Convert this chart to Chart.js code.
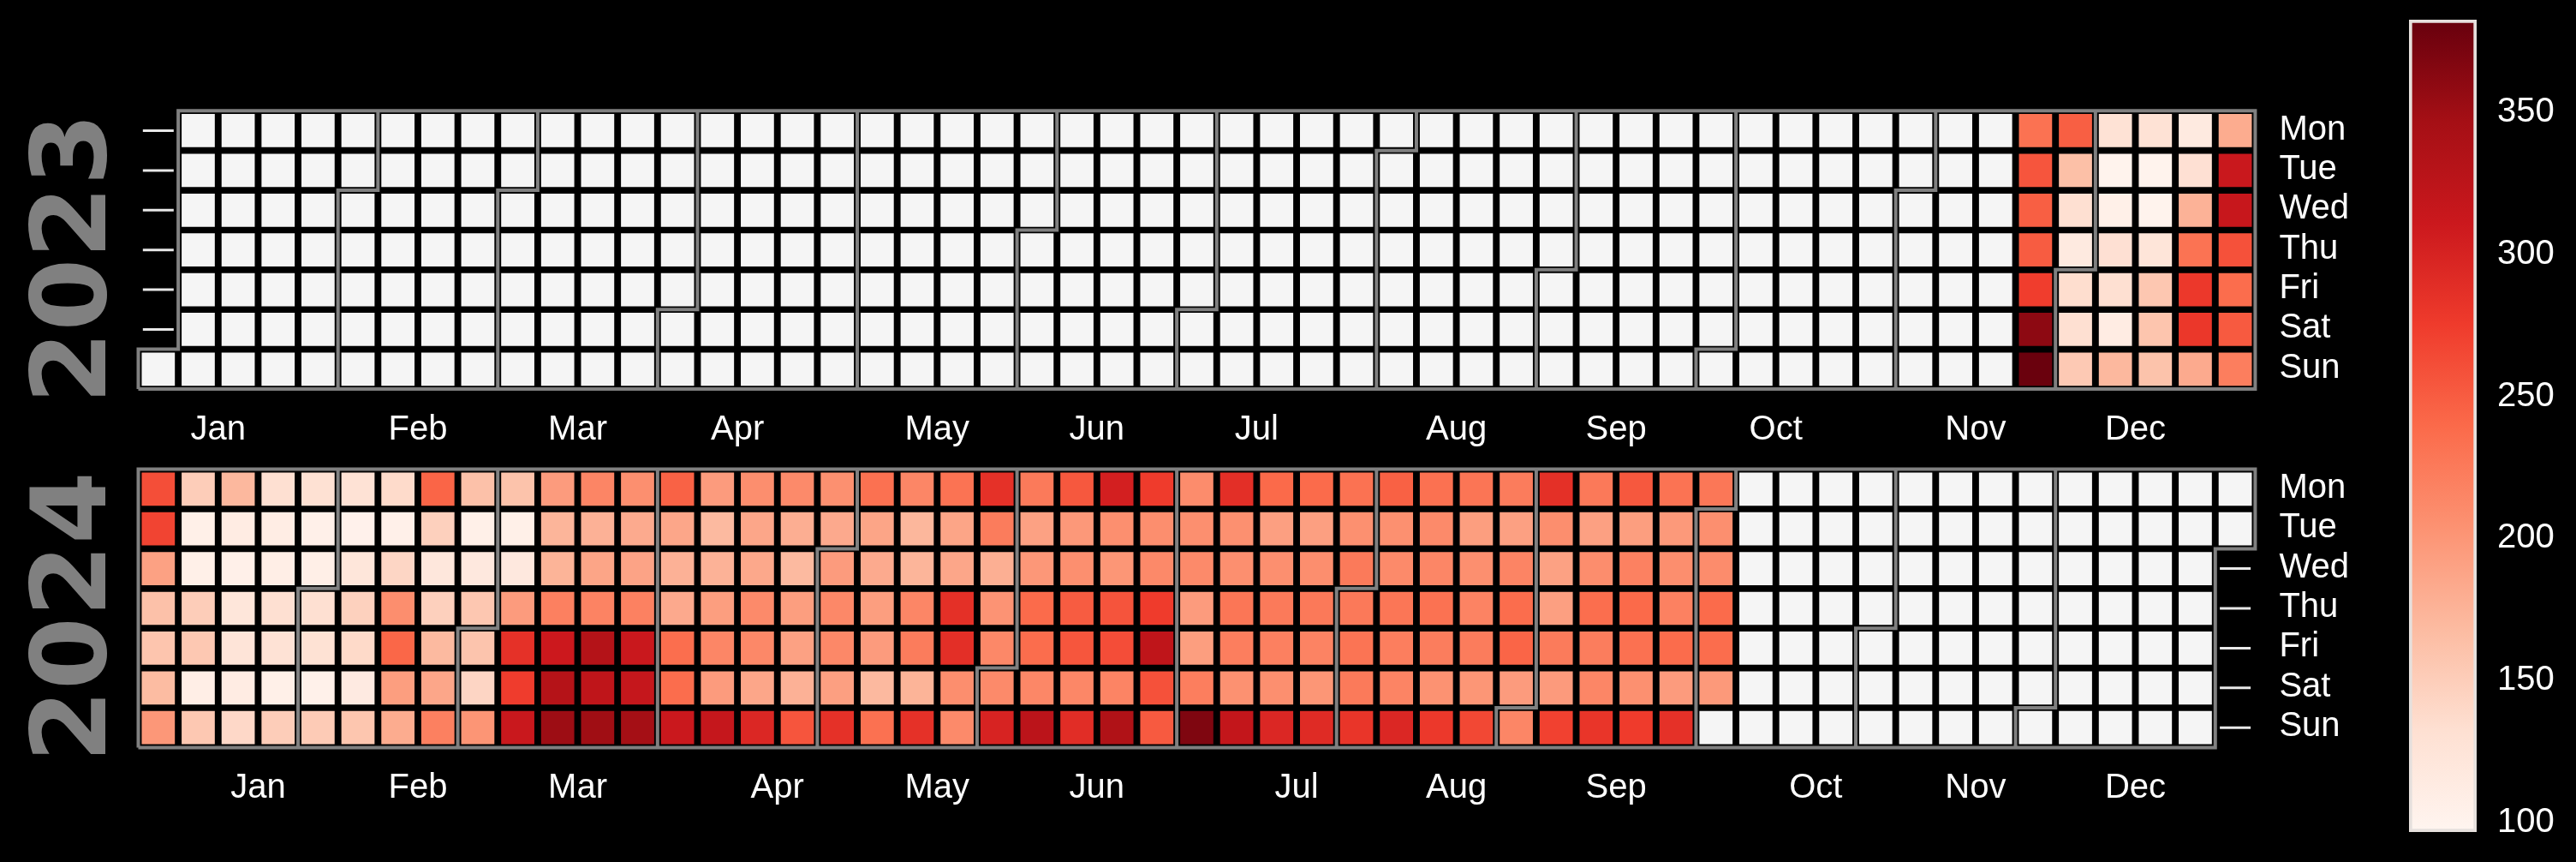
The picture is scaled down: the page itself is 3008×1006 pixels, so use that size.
<!DOCTYPE html>
<html>
<head>
<meta charset="utf-8">
<title>Calendar heatmap</title>
<script src="https://cdn.jsdelivr.net/npm/chart.js@4/dist/chart.umd.js"></script>
<style>
  html, body { margin: 0; padding: 0; background: #000; width: 3008px; height: 1006px; overflow: hidden; }
  canvas { position: absolute; filter: blur(0.7px); }
</style>
</head>
<body>
<canvas id="cal2023" width="2800" height="612" style="left:0;top:0"></canvas>
<canvas id="cal2024" width="2800" height="458" style="left:0;top:490px"></canvas>
<canvas id="colorbar" width="228" height="1006" style="left:2780px;top:0"></canvas>
<script>
const dayLabels = ["Mon", "Tue", "Wed", "Thu", "Fri", "Sat", "Sun"];
const monthLabels = ["Jan", "Feb", "Mar", "Apr", "May", "Jun", "Jul", "Aug", "Sep", "Oct", "Nov", "Dec"];

// week column each month label sits on
const monthWeeks2023 = [2, 7, 11, 15, 20, 24, 28, 33, 37, 41, 46, 50];
const monthWeeks2024 = [3, 7, 11, 16, 20, 24, 29, 33, 37, 42, 46, 50];

const colorbarTicks = [100, 150, 200, 250, 300, 350];
const vmin = 96;
const vmax = 382;

// 2023 only has data from week 47 on
const firstWeek2023 = 47;
const mon2023 = [232, 247, 128, 128, 115, 181];
const tue2023 = [255, 163, 100, 100, 131, 312];
const wed2023 = [247, 132, 105, 99, 175, 314];
const thu2023 = [250, 115, 131, 124, 231, 258];
const fri2023 = [273, 134, 132, 156, 278, 236];
const sat2023 = [360, 132, 111, 158, 279, 251];
const sun2023 = [380, 154, 170, 160, 182, 221];

const firstWeek2024 = 0;
const mon2024 = [260, 150, 170, 132, 130, 128, 137, 243, 162, 160, 195, 215, 206, 245,
  195, 207, 210, 205, 233, 214, 231, 285, 225, 253, 303, 275, 209, 287,
  239, 238, 232, 246, 233, 229, 223, 286, 226, 253, 231, 227];
const tue2024 = [268, 105, 112, 110, 104, 102, 104, 147, 105, 105, 173, 176, 182, 186,
  168, 186, 179, 183, 187, 171, 187, 223, 190, 198, 206, 207, 206, 205,
  192, 192, 205, 205, 210, 193, 191, 207, 191, 193, 197, 206];
const wed2024 = [190, 105, 104, 108, 107, 122, 141, 120, 118, 118, 174, 187, 188, 176,
  175, 184, 168, 195, 182, 173, 186, 178, 199, 206, 200, 211, 210, 206,
  206, 207, 225, 210, 214, 206, 216, 190, 208, 218, 207, 209];
const thu2024 = [162, 150, 122, 132, 132, 146, 207, 147, 156, 195, 219, 217, 218, 183,
  193, 210, 193, 212, 193, 214, 286, 202, 238, 250, 256, 275, 195, 228,
  225, 226, 226, 228, 232, 217, 236, 192, 235, 239, 218, 238];
const fri2024 = [158, 155, 125, 128, 129, 138, 241, 168, 159, 285, 310, 332, 312, 235,
  214, 212, 190, 212, 195, 223, 287, 212, 236, 254, 261, 322, 193, 221,
  219, 217, 230, 221, 222, 223, 243, 224, 222, 233, 237, 236];
const sat2024 = [167, 108, 111, 105, 103, 114, 193, 186, 142, 274, 331, 322, 316, 236,
  195, 186, 176, 192, 169, 174, 207, 210, 213, 213, 216, 258, 221, 204,
  206, 200, 225, 216, 203, 200, 195, 196, 214, 205, 195, 197];
const sun2024 = [199, 155, 139, 150, 152, 157, 181, 219, 201, 312, 351, 349, 346, 311,
  316, 295, 255, 285, 233, 285, 210, 299, 326, 289, 336, 251, 368, 318,
  295, 291, 281, 295, 278, 265, 214, 270, 281, 275, 285];

// matplotlib Reds
const reds = ["#fff5f0", "#fee0d2", "#fcbba1", "#fc9272", "#fb6a4a", "#ef3b2c", "#cb181d", "#a50f15", "#67000d"];

const hexRgb = (h) => [1, 3, 5].map((i) => parseInt(h.slice(i, i + 2), 16));

const valueColor = (v) => {
  const t = Math.min(1, Math.max(0, (v - vmin) / (vmax - vmin))) * (reds.length - 1);
  const i = Math.min(reds.length - 2, Math.floor(t));
  const a = hexRgb(reds[i]);
  const b = hexRgb(reds[i + 1]);
  const c = a.map((x, k) => Math.round(x + (b[k] - x) * (t - i)));
  return `rgb(${c[0]},${c[1]},${c[2]})`;
};

const rowOf = (y, m, d) => (new Date(Date.UTC(y, m, d)).getUTCDay() + 6) % 7;

const weekOf = (y, m, d) => {
  const doy = (Date.UTC(y, m, d) - Date.UTC(y, 0, 1)) / 86400000;
  return Math.floor((doy + rowOf(y, 0, 1)) / 7);
};

const noMargins = (s) => {
  s.paddingTop = 0;
  s.paddingBottom = 0;
  s.paddingLeft = 0;
  s.paddingRight = 0;
};

// the x axis is fitted short so the year title centres right, give its labels room again
const roomForMonths = {
  id: "roomForMonths",
  afterLayout: (chart) => { chart.scales.x.bottom = chart.height; },
};

const yearChart = (id, year, rows, firstWeek, monthWeeks, pad) => {
  const cells = [];
  const outside = [];
  for (let w = 0; w < 53; w++) {
    for (let r = 0; r < 7; r++) {
      const inYear = (w > 0 || r >= rowOf(year, 0, 1)) && (w < 52 || r <= rowOf(year, 11, 31));
      if (!inYear) {
        outside.push({ x: w + 0.5, y: r + 0.5 });
        continue;
      }
      cells.push({ x: w + 0.5, y: r + 0.5, v: rows[r][w - firstWeek] });
    }
  }

  const lines = [];
  for (let m = 1; m < 12; m++) {
    const w = weekOf(year, m, 1);
    const r = rowOf(year, m, 1);
    lines.push(r === 0
      ? [{ x: w, y: 0 }, { x: w, y: 7 }]
      : [{ x: w + 1, y: 0 }, { x: w + 1, y: r }, { x: w, y: r }, { x: w, y: 7 }]);
  }
  const r0 = rowOf(year, 0, 1);
  const rl = rowOf(year, 11, 31);
  const outline = [{ x: 0, y: 7 }];
  if (r0 > 0) outline.push({ x: 0, y: r0 }, { x: 1, y: r0 }, { x: 1, y: 0 });
  else outline.push({ x: 0, y: 0 });
  outline.push({ x: 53, y: 0 });
  if (rl < 6) outline.push({ x: 53, y: rl + 1 }, { x: 52, y: rl + 1 }, { x: 52, y: 7 });
  else outline.push({ x: 53, y: 7 });
  outline.push({ x: 0, y: 7 });
  lines.push(outline);

  const lineSets = lines.map((data) => ({
    data,
    showLine: true,
    borderColor: "#808080",
    borderWidth: 4,
    pointRadius: 0,
    tension: 0,
    clip: false,
  }));

  new Chart(document.getElementById(id), {
    type: "scatter",
    plugins: [roomForMonths],
    data: {
      datasets: [
        ...lineSets,
        {
          data: outside,
          pointStyle: "line",
          pointRadius: 18,
          pointBorderColor: "#e8e8e8",
          pointBorderWidth: 3,
          clip: false,
        },
        {
          data: cells,
          pointStyle: "rect",
          pointRadius: 27.4,
          pointBorderWidth: 0,
          pointBackgroundColor: (c) => (c.raw && c.raw.v != null ? valueColor(c.raw.v) : "#f5f5f5"),
          clip: false,
        },
      ],
    },
    options: {
      responsive: false,
      animation: false,
      devicePixelRatio: 1,
      events: [],
      layout: { padding: pad },
      plugins: {
        legend: { display: false },
        tooltip: { enabled: false },
        title: {
          display: true,
          text: String(year),
          position: "left",
          color: "#808080",
          font: { family: "DejaVu Sans", weight: "bold", size: 122, lineHeight: 1 },
          padding: { top: 0, bottom: 9.5 },
        },
      },
      scales: {
        x: {
          type: "linear",
          min: 0,
          max: 53,
          afterBuildTicks: (s) => { s.ticks = monthWeeks.map((value) => ({ value })); },
          afterFit: (s) => { s.height = 20; noMargins(s); },
          grid: { display: false, drawTicks: false },
          border: { display: false },
          ticks: {
            autoSkip: false,
            maxRotation: 0,
            padding: 24,
            color: "#ffffff",
            font: { family: "Liberation Sans", size: 40 },
            callback: (v, i) => monthLabels[i],
          },
        },
        y: {
          type: "linear",
          position: "right",
          reverse: true,
          min: 0,
          max: 7,
          afterBuildTicks: (s) => { s.ticks = dayLabels.map((d, i) => ({ value: i + 0.5 })); },
          afterFit: (s) => { s.width = 150; noMargins(s); },
          grid: { display: false, drawTicks: false },
          border: { display: false },
          ticks: {
            autoSkip: false,
            padding: 28,
            labelOffset: -1,
            color: "#ffffff",
            font: { family: "Liberation Sans", size: 40 },
            callback: (v, i) => dayLabels[i],
          },
        },
      },
    },
  });
};

yearChart("cal2023", 2023,
  [mon2023, tue2023, wed2023, thu2023, fri2023, sat2023, sun2023],
  firstWeek2023, monthWeeks2023, { left: 30, right: 16.6, top: 129.3, bottom: 138 });

yearChart("cal2024", 2024,
  [mon2024, tue2024, wed2024, thu2024, fri2024, sat2024, sun2024],
  firstWeek2024, monthWeeks2024, { left: 30, right: 16.6, top: 57.6, bottom: 55.6 });

new Chart(document.getElementById("colorbar"), {
  type: "bar",
  data: {
    labels: [""],
    datasets: [{
      data: [[vmin, vmax]],
      barPercentage: 1,
      categoryPercentage: 1,
      borderColor: "#e6e0dd",
      borderWidth: 4,
      borderSkipped: false,
      backgroundColor: (c) => {
        const area = c.chart.chartArea;
        if (!area) return reds[0];
        const g = c.chart.ctx.createLinearGradient(0, area.bottom, 0, area.top);
        reds.forEach((col, i) => g.addColorStop(i / (reds.length - 1), col));
        return g;
      },
    }],
  },
  options: {
    responsive: false,
    animation: false,
    devicePixelRatio: 1,
    events: [],
    layout: { padding: { left: 33, right: 0, top: 23, bottom: 35 } },
    plugins: { legend: { display: false }, tooltip: { enabled: false } },
    scales: {
      x: { display: false },
      y: {
        position: "right",
        min: vmin,
        max: vmax,
        afterBuildTicks: (s) => { s.ticks = colorbarTicks.map((value) => ({ value })); },
        afterFit: (s) => { s.width = 116; noMargins(s); },
        grid: { display: false, drawTicks: false },
        border: { display: false },
        ticks: {
          padding: 24,
          labelOffset: 2,
          color: "#ffffff",
          font: { family: "Liberation Sans", size: 40 },
        },
      },
    },
  },
});
</script>
</body>
</html>
